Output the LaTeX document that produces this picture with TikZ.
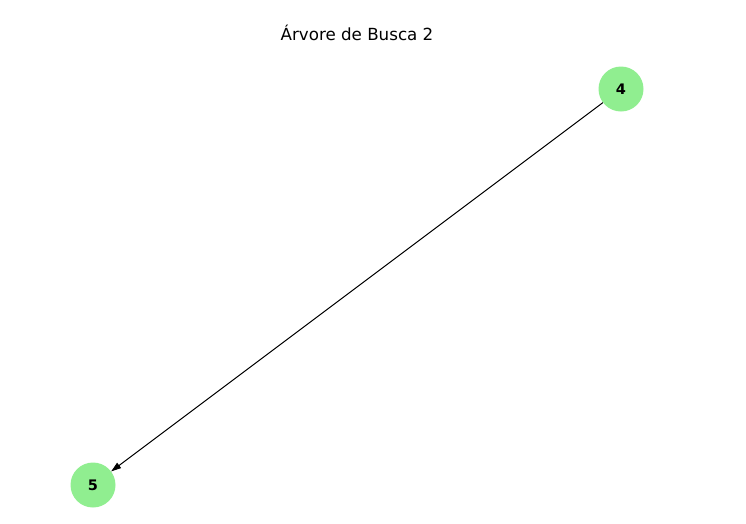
\documentclass[tikz,border=0pt]{standalone}
\usepackage{fontspec}
\setmainfont{DejaVu Sans}
\usetikzlibrary{arrows.meta}
\definecolor{lightgreen}{HTML}{90EE90}

\begin{document}
\begin{tikzpicture}[x=1pt, y=-1pt,
     every node/.style={inner sep=0pt},
     vertex/.style={circle, fill=lightgreen, minimum size=45pt, font=\fontsize{14.5}{16}\selectfont\bfseries},
     edge/.style={-{Triangle[length=10pt, width=6.5pt]}, line width=1pt},]

   \useasboundingbox (0,0) rectangle (746,523);

   \node (title) at (357,33) {\fontsize{16.7}{20}\selectfont Árvore de Busca 2};
   \node[vertex] (four) at (621,89) {4};
   \node[vertex] (five) at (93,485) {5};

   \draw[edge] (four) -- (five);
  \end{tikzpicture}
\end{document}
